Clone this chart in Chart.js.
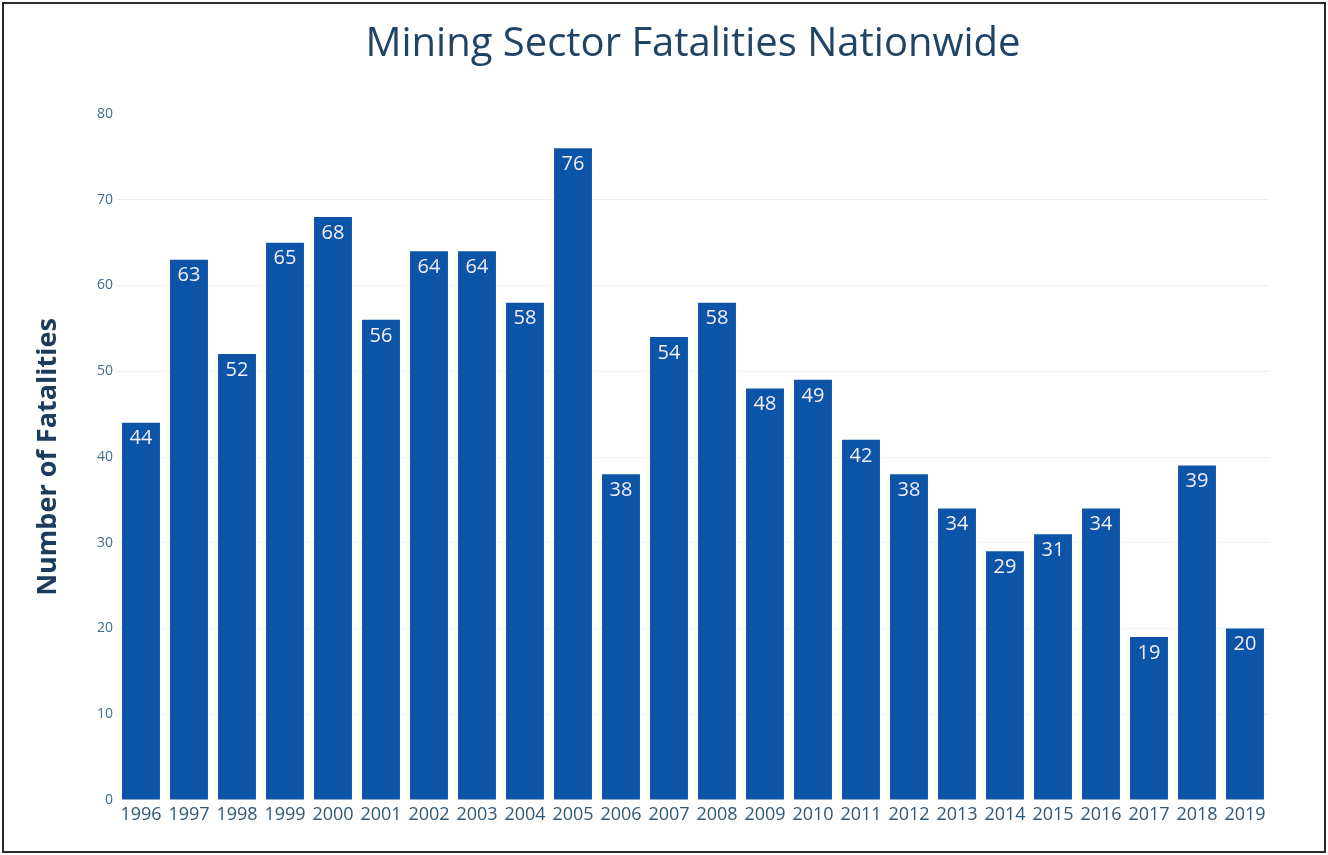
<!DOCTYPE html>
<html>
<head>
<meta charset="utf-8">
<script src="https://cdn.jsdelivr.net/npm/chart.js@4"></script>
<style>
  html, body { margin: 0; padding: 0; background: #fff; }
  #wrap { width: 1328px; height: 855px; }
</style>
</head>
<body>
<div id="wrap"><canvas id="fatalitiesChart"></canvas></div>
<script>
// Chart data
const years = ['1996', '1997', '1998', '1999', '2000', '2001', '2002', '2003', '2004', '2005', '2006', '2007',
  '2008', '2009', '2010', '2011', '2012', '2013', '2014', '2015', '2016', '2017', '2018', '2019'];
const fatalities = [44, 63, 52, 65, 68, 56, 64, 64, 58, 76, 38, 54, 58, 48, 49, 42, 38, 34, 29, 31, 34, 19, 39, 20];
const chartTitle = 'Mining Sector Fatalities Nationwide';
const yAxisTitle = 'Number of Fatalities';

const ctx = document.getElementById('fatalitiesChart').getContext('2d');

// Draws border, title, and the value labels inside the bar tops
const extras = {
  id: 'extras',
  afterDraw(chart) {
    const c = chart.ctx;
    const area = chart.chartArea;
    c.save();
    c.strokeStyle = '#2b2b2b';
    c.lineWidth = 2;
    c.strokeRect(3, 3, chart.width - 6, chart.height - 6);

    c.fillStyle = '#1f4466';
    c.font = '40px "Open Sans"';
    c.textAlign = 'center';
    c.textBaseline = 'middle';
    c.fillText(chartTitle, (area.left + area.right) / 2, 45);

    c.fillStyle = '#f4eef6';
    c.font = '20px "Open Sans"';
    const meta = chart.getDatasetMeta(0);
    meta.data.forEach((bar, i) => {
      c.fillText(String(fatalities[i]), bar.x, bar.y + 16);
    });
    c.restore();
  }
};

new Chart(ctx, {
  type: 'bar',
  data: {
    labels: years,
    datasets: [{
      label: 'Fatalities',
      data: fatalities,
      backgroundColor: '#0c54a7',
      borderWidth: 0,
      barPercentage: 0.79,
      categoryPercentage: 1.0
    }]
  },
  options: {
    responsive: true,
    maintainAspectRatio: false,
    animation: false,
    layout: { padding: { top: 114, right: 59, bottom: 25, left: 0 } },
    plugins: {
      legend: { display: false },
      tooltip: { enabled: false }
    },
    scales: {
      x: {
        grid: { display: false },
        border: { display: false },
        ticks: { color: '#2f5878', font: { family: 'Open Sans', size: 18 }, padding: -4, maxRotation: 0, autoSkip: false },
        afterFit: s => { s.height = 30; }
      },
      y: {
        min: 0,
        max: 80,
        ticks: { stepSize: 10, color: '#3f6f92', font: { family: 'Open Sans', size: 14 }, padding: 4 },
        grid: {
          color: c => (c.tick.value === 80 || c.tick.value === 0) ? 'rgba(0,0,0,0)' : '#eaeff5',
          drawTicks: false
        },
        border: { display: false },
        title: {
          display: true,
          text: yAxisTitle,
          color: '#1d3b5c',
          font: { family: 'Open Sans', size: 27, weight: 'bold' },
          padding: { top: 32, bottom: 0 }
        },
        afterFit: s => { s.width = 117; }
      }
    }
  },
  plugins: [extras]
});
</script>
</body>
</html>
